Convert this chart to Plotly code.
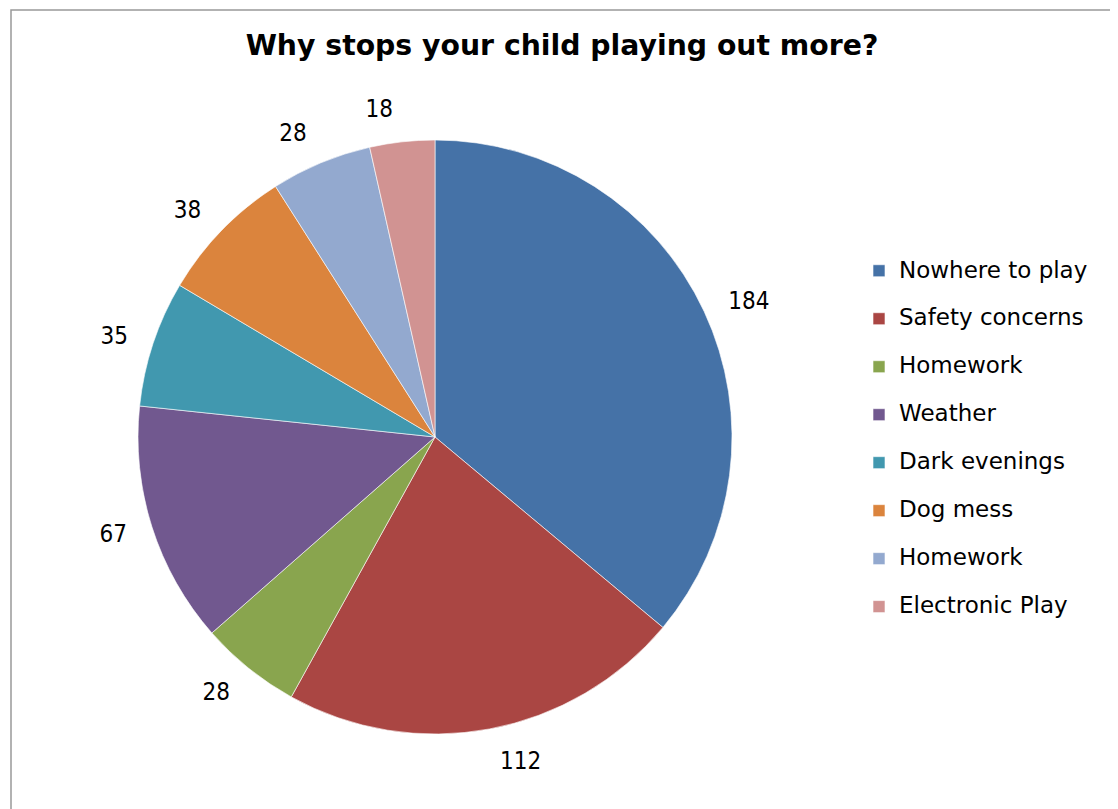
import plotly.graph_objects as go

categories = ["Nowhere to play", "Safety concerns", "Homework", "Weather",
              "Dark evenings", "Dog mess", "Homework\u200b", "Electronic Play"]
values = [184, 112, 28, 67, 35, 38, 28, 18]
colors = ["#4572A7", "#AA4643", "#89A54E", "#71588F",
          "#4198AF", "#DB843D", "#93A9CF", "#D19392"]

W, H = 1118, 809
cx, cy, r = 427, 429, 297     # pie centre / radius (px)
r_lab = 316                   # radius of invisible ring that places the value labels


def dom(radius):
    return dict(x=[(cx - radius) / W, (cx + radius) / W],
                y=[(H - cy - radius) / H, (H - cy + radius) / H])


legend_labels = ["<span style='font-size:23px'>%s</span><br> " % c for c in categories]
label_font = dict(family="DejaVu Sans Condensed, DejaVu Sans", size=24, color="black")

fig = go.Figure()
fig.add_trace(go.Pie(
    labels=legend_labels,
    values=values,
    sort=False,
    direction="clockwise",
    rotation=0,
    marker=dict(colors=colors, line=dict(color="rgba(255,255,255,0.6)", width=1)),
    textinfo="none",
    domain=dom(r),
    hoverinfo="label+value",
))
# transparent pies, slightly larger, used only to position the value labels
last = len(values) - 1
for pos in (["outside"] * last + ["none"], ["none"] * last + ["outside"]):
    fig.add_trace(go.Pie(
        labels=legend_labels,
        values=values,
        sort=False,
        direction="clockwise",
        rotation=0,
        marker=dict(colors=["rgba(0,0,0,0)"] * len(values), line=dict(width=0)),
        textinfo="value",
        textposition=pos,
        outsidetextfont=label_font,
        domain=dom(r_lab),
        showlegend=False,
        hoverinfo="skip",
    ))

fig.update_layout(
    width=W, height=H,
    margin=dict(l=0, r=0, t=0, b=0),
    paper_bgcolor="white",
    title=dict(text="<b>Why stops your child playing out more?</b>",
               x=554 / W, xanchor="center",
               y=1 - 37 / H, yanchor="middle",
               font=dict(family="DejaVu Sans", size=28.3, color="black")),
    legend=dict(x=851 / W, xanchor="left", y=1 - 245 / H, yanchor="top",
                font=dict(family="DejaVu Sans", size=17.3, color="black"),
                valign="top", itemclick=False, tracegroupgap=0),
    shapes=[dict(type="rect", xref="paper", yref="paper",
                 x0=3 / W, x1=1.05, y0=-0.05, y1=1 - 2 / H,
                 line=dict(color="#999999", width=1.5), layer="below")],
)

fig.write_html("out.html")
